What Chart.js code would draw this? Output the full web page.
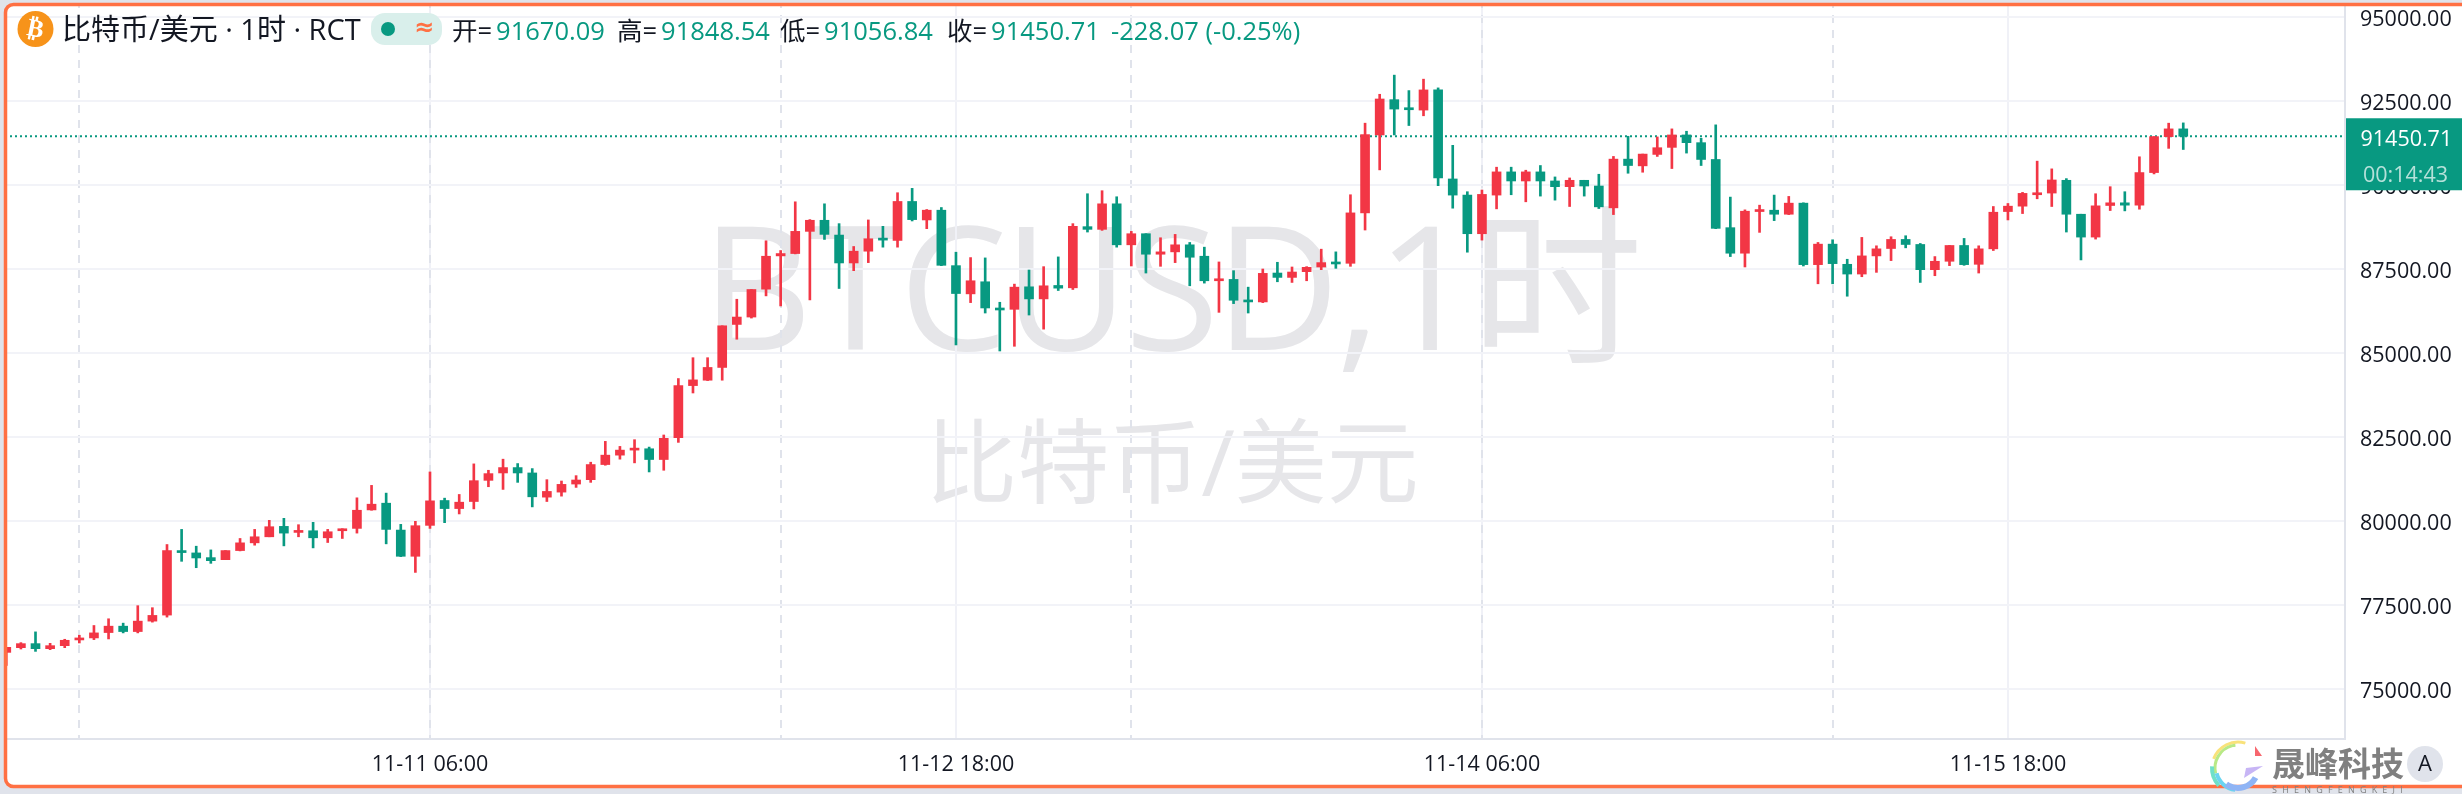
<!DOCTYPE html>
<html lang="zh">
<head>
    <meta charset="UTF-8">
    <title>比特币/美元 1时</title>
    <script src="https://cdn.jsdelivr.net/npm/chart.js"></script>
    <style>
        html, body { margin: 0; padding: 0; background: #e0e3eb; overflow: hidden; }
        #btcChart { display: block; }
    </style>
</head>
<body>
    <canvas id="btcChart" width="2462" height="794"></canvas>
    <script>
    // 1시간봉 OHLC, 그림에서 읽은 값
    const opens = [
        76090,76230,76350,76200,76290,76460,76520,76680,76870,76710,
        77020,77200,79110,79050,78910,78850,79120,79350,79530,79840,
        79660,79710,79500,79710,79780,80330,80530,79730,78950,
        79870,80610,80370,80580,81210,81430,81590,81430,80710,80860,
        81100,81230,81680,81960,82110,82150,81830,82480,84030,84190,
        84570,85850,86070,86900,87890,87960,88620,88950,88510,87680,
        88030,88400,88350,89510,88960,89250,87600,86760,87120,86330,
        86300,86970,86610,87010,86940,88760,88680,89440,88220,88550,
        87940,88010,88220,87880,87150,87190,86570,86520,87380,87250,
        87420,87560,87680,87670,89170,91490,92540,92300,92230,92830,
        90180,89700,88550,89700,90390,90120,90390,90120,89950,90140,
        89970,89320,90770,90570,90910,91120,91490,91260,90760,88730,
        87970,89210,89250,89130,89460,87630,88240,87640,87350,87890,
        88110,88380,88230,87480,87730,88200,87640,88100,89210,89370,
        89710,89760,90140,89130,88450,89390,89470,89400,90370,91440,
        91670.09
    ];
    const highs = [
        76240,76380,76700,76360,76480,76600,76890,77090,76960,77480,
        77420,79300,79750,79250,79140,79120,79480,79750,80020,80080,
        79890,79960,79750,79770,80690,81060,80830,79900,79990,
        81460,80680,80790,81700,81510,81840,81710,81560,81230,81190,
        81350,81750,82370,82220,82420,82200,82560,84240,84860,84860,
        85810,86600,86890,88340,88050,89500,88970,89440,88850,88170,
        88960,88770,89770,89900,89270,89330,88000,87840,87830,86510,
        87050,87470,87570,87860,88850,89740,89830,89650,88620,88550,
        88430,88530,88290,88150,87710,87450,86960,87500,87700,87560,
        87570,88090,88010,89710,91840,92700,93270,92810,93150,92890,
        91180,89800,89850,90530,90530,90440,90580,90240,90210,90140,
        90320,90850,91450,90920,91430,91670,91600,91390,91790,89640,
        89260,89400,89700,89660,89470,88290,88370,87790,88440,88190,
        88460,88490,88260,87870,88200,88410,88190,89360,89450,89780,
        90710,90480,90190,89130,89740,89950,89800,90840,91440,91840,
        91848.54
    ];
    const lows = [
        75700,76190,76120,76170,76230,76370,76470,76490,76670,76670,
        76990,77140,78800,78610,78740,78850,79110,79280,79530,79260,
        79530,79200,79360,79480,79640,80320,79320,78940,78470,
        79780,79950,80210,80360,81020,80940,81150,80420,80580,80740,
        81000,81150,81660,81840,81730,81460,81510,82340,83810,84180,
        84190,85410,86040,86700,86400,87950,86580,88380,86920,87450,
        87690,88150,88150,88930,88700,87600,85240,86500,86190,85060,
        85200,86130,85710,86860,86890,88600,88650,88150,87590,87380,
        87580,87690,87000,87080,86210,86470,86190,86500,87120,87100,
        87150,87480,87520,87580,88660,90450,91490,91770,92060,89980,
        89310,88000,88360,89290,89710,89500,89670,89550,89360,89670,
        89300,89120,90350,90380,90850,90490,90950,90580,88700,87870,
        87560,88590,88940,89120,87590,87060,87060,86690,87270,87400,
        87750,88130,87100,87300,87600,87610,87380,88050,88960,89150,
        89590,89360,88600,87770,88390,89240,89230,89280,90330,91090,
        91056.84
    ];
    const closes = [
        76240,76350,76200,76290,76450,76520,76670,76870,76710,77020,
        77190,79120,79060,78900,78820,79120,79350,79530,79830,79640,
        79710,79500,79680,79770,80320,80500,79750,78950,79860,
        80600,80370,80560,81200,81410,81590,81430,80720,80880,81090,
        81220,81680,81960,82110,82150,81830,82460,84030,84200,84570,
        85810,86070,86890,87880,87960,88620,88950,88530,87680,88030,
        88400,88360,89510,88970,89250,87610,86770,87150,86340,86280,
        86960,86610,87000,86930,88770,88680,89440,88220,88550,87940,
        88010,88220,87850,87150,87190,86570,86520,87370,87250,87410,
        87550,87690,87650,89170,91500,92560,92260,92240,92830,90210,
        89700,88550,89720,90390,90120,90390,90120,89950,90140,89970,
        89350,90770,90580,90920,91110,91490,91260,90760,88710,87970,
        89220,89250,89130,89460,87630,88240,87660,87350,87890,88100,
        88380,88230,87480,87730,88200,87630,88100,89190,89370,89750,
        89750,90150,89130,88450,89380,89470,89400,90370,91440,91670,
        91450.71
    ];

    const firstHour = -29; // 11-11 06:00 기준 시간 오프셋
    const hours = opens.map((_, i) => firstHour + i);

    const yTicks = [75000, 77500, 80000, 82500, 85000, 87500, 90000, 92500, 95000];
    const labelHours = [0, 36, 72, 108];
    const xTickLabels = ['11-11 06:00', '11-12 18:00', '11-14 06:00', '11-15 18:00'];
    const dayLineHours = [-24, 0, 24, 48, 72, 96];

    const headerLabels = ['开', '高', '低', '收'];
    const lastBar = [91670.09, 91848.54, 91056.84, 91450.71];
    const changeText = '-228.07 (-0.25%)';
    const countdownText = '00:14:43';

    const RED = '#f23645';
    const GREEN = '#089981';
    const TEXT = '#131722';
    const FONT = '"Open Sans", "Noto Sans CJK SC", sans-serif';
    const xMin = -29.43, xMax = 131.07;
    const yMin = 73512, yMax = 95506;

    const candleColor = (ctx) => closes[ctx.dataIndex] >= opens[ctx.dataIndex] ? RED : GREEN;

    function drawLogo(ctx) {
        // 우측 하단 로고
        const arcs = [
            ['#f9e27a', 26, 3.5, 5.0, 3], ['#b8e986', 23, 2.9, 4.6, 3],
            ['#6fe0c8', 26, 2.4, 3.2, 4], ['#6ad4f0', 22, 1.7, 2.9, 4],
            ['#8fb4f5', 20, 0.5, 2.2, 6]
        ];
        arcs.forEach(([color, r, a0, a1, w]) => {
            ctx.strokeStyle = color;
            ctx.lineWidth = w;
            ctx.beginPath();
            ctx.arc(2238, 768, r, a0, a1);
            ctx.stroke();
        });
        ctx.fillStyle = '#f7666e';
        ctx.beginPath();
        ctx.moveTo(2255, 746); ctx.lineTo(2262, 756); ctx.lineTo(2255, 756);
        ctx.fill();
        ctx.fillStyle = '#c7b5f5';
        ctx.beginPath();
        ctx.moveTo(2246, 768); ctx.lineTo(2263, 766); ctx.lineTo(2244, 778);
        ctx.fill();

        ctx.fillStyle = '#808080';
        ctx.textAlign = 'left';
        ctx.textBaseline = 'middle';
        ctx.font = 'bold 33px "Noto Sans CJK SC"';
        ctx.fillText('晟峰科技', 2272, 763);
        ctx.font = '9px "Open Sans"';
        ctx.letterSpacing = '5.2px';
        ctx.fillText('SHENGFENGKEJI', 2272, 790);
        ctx.letterSpacing = '0px';

        ctx.fillStyle = '#e0e3eb';
        ctx.beginPath();
        ctx.arc(2425, 764, 18, 0, Math.PI * 2);
        ctx.fill();
        ctx.fillStyle = TEXT;
        ctx.textAlign = 'center';
        ctx.font = '22px "Open Sans"';
        ctx.fillText('A', 2425, 765);
    }

    function drawHeader(ctx) {
        // 코인 아이콘
        ctx.fillStyle = '#f7931a';
        ctx.beginPath();
        ctx.arc(35.5, 29, 18, 0, Math.PI * 2);
        ctx.fill();
        ctx.save();
        ctx.translate(35.5, 29);
        ctx.rotate(0.2);
        ctx.fillStyle = '#fff';
        ctx.textAlign = 'center';
        ctx.textBaseline = 'middle';
        ctx.font = 'bold 25px "DejaVu Sans"';
        ctx.fillText('₿', 0, 1);
        ctx.restore();

        ctx.textAlign = 'left';
        ctx.textBaseline = 'middle';
        ctx.fillStyle = TEXT;
        ctx.font = '29px ' + FONT;
        ctx.fillText('比特币/美元 · 1时 · RCT', 62, 32);

        // 상태 표시
        ctx.fillStyle = '#d9efeb';
        ctx.beginPath();
        ctx.roundRect(371, 13, 71, 32, 14);
        ctx.fill();
        ctx.fillStyle = GREEN;
        ctx.beginPath();
        ctx.arc(388, 29, 7, 0, Math.PI * 2);
        ctx.fill();
        ctx.fillStyle = '#ff7043';
        ctx.font = 'bold 24px "DejaVu Sans"';
        ctx.textAlign = 'center';
        ctx.fillText('≈', 424, 29);

        // 시고저종
        ctx.textAlign = 'left';
        ctx.font = '25.5px ' + FONT;
        const xs = [452, 617, 780, 947];
        headerLabels.forEach((label, i) => {
            ctx.fillStyle = TEXT;
            ctx.fillText(label + '=', xs[i], 33);
            const w = ctx.measureText(label + '=').width;
            ctx.fillStyle = GREEN;
            ctx.fillText(lastBar[i].toFixed(2), xs[i] + w + 4, 33);
        });
        ctx.fillStyle = GREEN;
        ctx.fillText(changeText, 1111, 33);
    }

    const chromePlugin = {
        id: 'chrome',
        beforeDraw: (chart) => {
            const ctx = chart.ctx;
            ctx.save();
            ctx.fillStyle = '#fff';
            ctx.fillRect(0, 0, chart.width, chart.height);
            // 배경 워터마크
            ctx.fillStyle = '#e6e6e9';
            ctx.textAlign = 'center';
            ctx.textBaseline = 'middle';
            ctx.font = '172px ' + FONT;
            ctx.letterSpacing = '-4px';
            ctx.fillText('BTCUSD,1时', 1170, 301);
            ctx.letterSpacing = '0px';
            ctx.font = '92px ' + FONT;
            ctx.fillText('比特币/美元', 1172, 470);
            ctx.restore();
        },
        afterDraw: (chart) => {
            const ctx = chart.ctx;
            const y = chart.scales.y;
            ctx.save();
            // 바깥 테두리
            ctx.fillStyle = '#e0e3eb';
            ctx.beginPath();
            ctx.rect(0, 0, chart.width, chart.height);
            ctx.roundRect(5.5, 4.5, 2500, 782, 8);
            ctx.fill('evenodd');
            ctx.strokeStyle = '#ff7043';
            ctx.lineWidth = 3.5;
            ctx.beginPath();
            ctx.roundRect(5.5, 4.5, 2500, 782, 8);
            ctx.stroke();

            drawHeader(ctx);
            drawLogo(ctx);

            // 현재가 라벨
            const last = lastBar[3];
            const py = y.getPixelForValue(last);
            const px = chart.chartArea.right + 1;
            ctx.fillStyle = GREEN;
            ctx.fillRect(px, py - 18, chart.width - px, 72);
            ctx.textAlign = 'left';
            ctx.textBaseline = 'middle';
            ctx.font = '21.5px ' + FONT;
            ctx.fillStyle = '#fff';
            ctx.fillText(last.toFixed(2), 2360.5, py + 4);
            ctx.fillStyle = 'rgba(255,255,255,0.7)';
            ctx.fillText(countdownText, 2363, py + 40);
            ctx.restore();
        }
    };

    new Chart(document.getElementById('btcChart').getContext('2d'), {
        type: 'bar',
        data: {
            datasets: [
                {
                    type: 'line',
                    data: [{ x: xMin, y: lastBar[3] }, { x: xMax, y: lastBar[3] }],
                    borderColor: GREEN,
                    borderWidth: 2,
                    borderDash: [2, 3],
                    pointRadius: 0,
                    order: 3
                },
                {
                    // 꼬리
                    data: hours.map((h, i) => ({ x: h, y: [lows[i], highs[i]] })),
                    backgroundColor: candleColor,
                    barThickness: 2,
                    grouped: false,
                    borderSkipped: false,
                    order: 2
                },
                {
                    // 몸통
                    data: hours.map((h, i) => ({ x: h, y: [opens[i], closes[i]] })),
                    backgroundColor: candleColor,
                    barThickness: 9,
                    minBarLength: 2,
                    grouped: false,
                    borderSkipped: false,
                    order: 1
                }
            ]
        },
        options: {
            responsive: false,
            animation: false,
            layout: { padding: 0, autoPadding: false },
            plugins: { legend: { display: false }, tooltip: { enabled: false }, title: { display: false } },
            scales: {
                x: {
                    type: 'linear',
                    position: 'bottom',
                    min: xMin,
                    max: xMax,
                    offset: false,
                    afterBuildTicks: (scale) => { scale.ticks = labelHours.map(v => ({ value: v })); },
                    afterFit: (scale) => { scale.height = 55; scale.paddingLeft = 0; scale.paddingRight = 0; },
                    ticks: {
                        autoSkip: false,
                        maxRotation: 0,
                        padding: 13,
                        color: TEXT,
                        font: { family: FONT, size: 21.5 },
                        callback: (v) => xTickLabels[labelHours.indexOf(v)]
                    },
                    grid: { offset: false, color: '#f0f1f7', lineWidth: 2, drawTicks: false },
                    border: { display: true, color: '#e0e3eb', width: 2 }
                },
                xDay: {
                    type: 'linear',
                    position: 'bottom',
                    min: xMin,
                    max: xMax,
                    offset: false,
                    afterBuildTicks: (scale) => { scale.ticks = dayLineHours.map(v => ({ value: v })); },
                    afterFit: (scale) => { scale.height = 0; scale.paddingLeft = 0; scale.paddingRight = 0; },
                    ticks: { display: false },
                    grid: { offset: false, color: '#e0e3eb', lineWidth: 2, drawTicks: false },
                    border: { display: false, dash: [8, 7] }
                },
                y: {
                    type: 'linear',
                    position: 'right',
                    min: yMin,
                    max: yMax,
                    afterBuildTicks: (scale) => { scale.ticks = yTicks.map(v => ({ value: v })); },
                    // 눈금 글자 때문에 플롯 영역이 줄어들지 않게 함
                    afterFit: (scale) => { scale.width = 117; scale.paddingTop = 0; scale.paddingBottom = 0; },
                    ticks: {
                        padding: 15,
                        crossAlign: 'near',
                        color: TEXT,
                        // 빈 첫 줄로 글자를 격자선 높이까지 조금 내림
                        font: { family: FONT, size: 21.5, lineHeight: 0.28 },
                        callback: (v) => ['', v.toFixed(2)]
                    },
                    grid: { color: '#f2f3f8', lineWidth: 2, drawTicks: false },
                    border: { display: true, color: '#e0e3eb', width: 2 }
                }
            }
        },
        plugins: [chromePlugin]
    });
    </script>
</body>
</html>
